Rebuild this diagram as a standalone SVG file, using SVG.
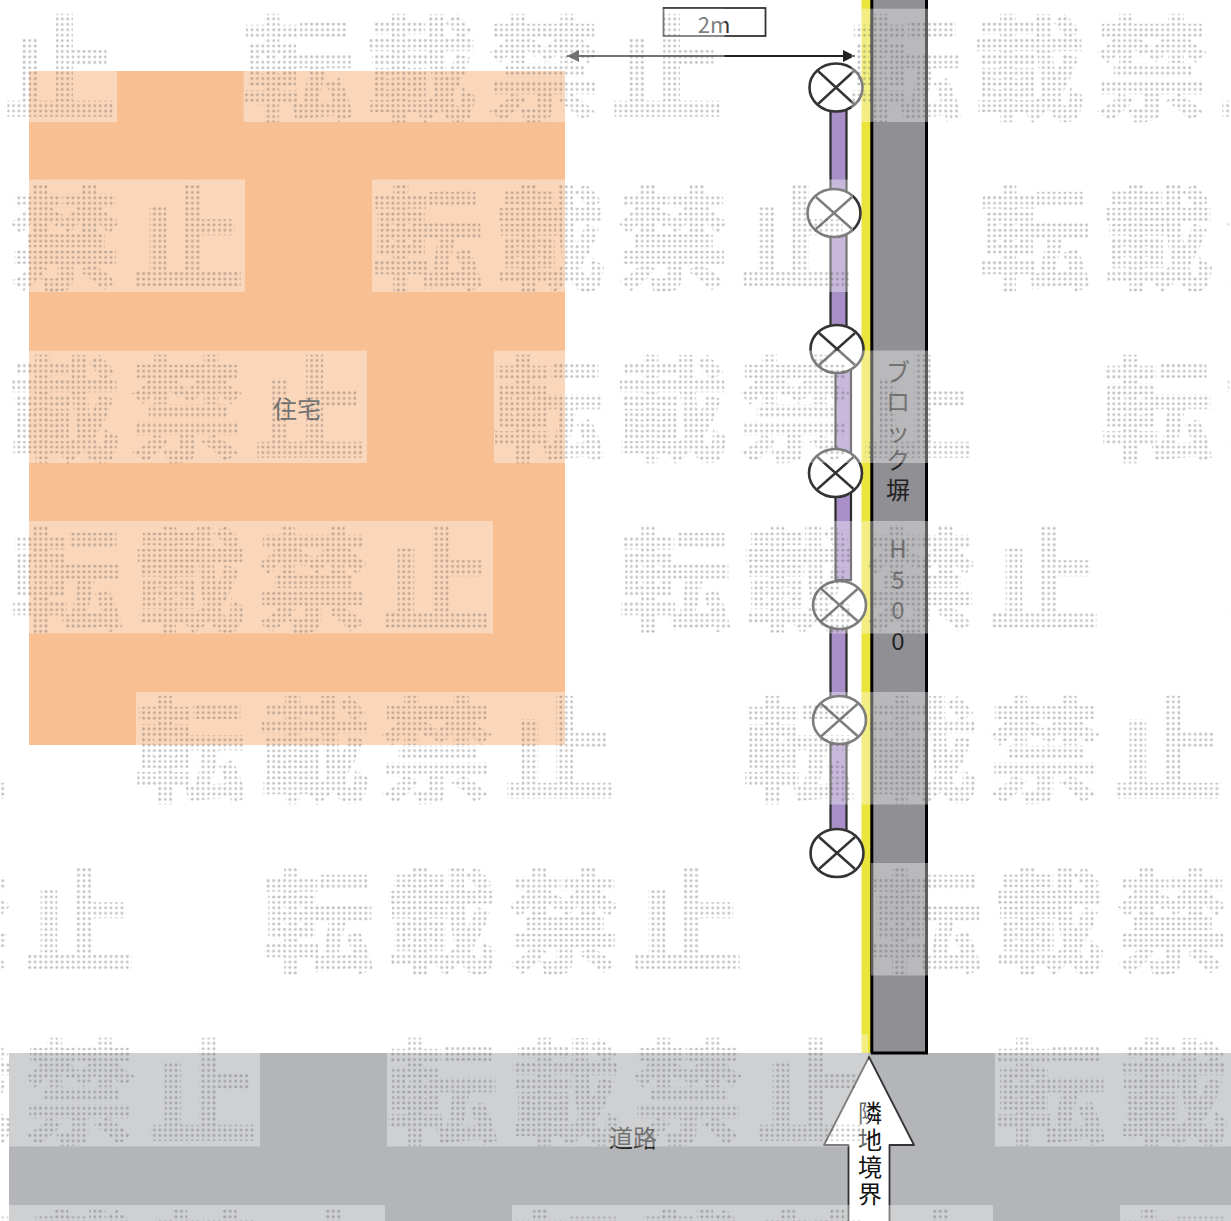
<svg xmlns="http://www.w3.org/2000/svg" width="1231" height="1221" viewBox="0 0 1231 1221">
<style>
.lbl{font-family:"Noto Sans CJK JP","Liberation Sans",sans-serif;fill:#222;font-size:24px;text-anchor:middle}
.lamp{fill:#fff;stroke:#333;stroke-width:2.6}
.cross{stroke:#333;stroke-width:2.4;fill:none}
.bar{fill:#a98fc8;stroke:#2a2a2a;stroke-width:2.2}
.wb{fill:#fff;fill-opacity:.37}
.wt{font-family:"Noto Sans CJK JP",sans-serif;font-weight:700;font-size:112px;letter-spacing:11px;fill:url(#dots);stroke:url(#dots);stroke-width:2.5px;opacity:.33}
</style>
<defs>
<pattern id="dots" width="5.42" height="5.42" patternUnits="userSpaceOnUse"><rect x="1.3" y="1.3" width="2.7" height="2.7" rx="1" fill="#4a4a4a"/></pattern>
<marker id="ah" viewBox="0 0 12 12" refX="12" refY="6" markerWidth="12" markerHeight="12" markerUnits="userSpaceOnUse" orient="auto-start-reverse"><path d="M0 0L12 6L0 12z" fill="#222"/></marker>
</defs>
<rect width="1231" height="1221" fill="#fff"/>
<g id="road"><rect x="9" y="1053" width="1222" height="168" fill="#b4b5b8"/></g>
<g id="house"><rect x="29" y="71" width="536" height="674" fill="#f8bf92"/><text class="lbl" x="297" y="418">住宅</text></g>
<g id="road-label"><text class="lbl" x="633" y="1147">道路</text></g>
<g id="boundary-strip"><rect x="861.5" y="0" width="10" height="1053" fill="#eae43b"/></g>
<g id="block-wall">
<rect x="871" y="-4" width="57" height="1058" fill="#908f94"/>
<path d="M871.8 0V1053M926.5 0V1053M871 1053H928" fill="none" stroke="#000" stroke-width="3"/>
<text class="lbl" x="898 898 898 898 898 898 898 898 898" y="381 411 441 469 499 558 589 619 650">ブロック塀H500</text>
</g>
<g id="fence">
<rect class="bar" x="830.5" y="105" width="16" height="245"/>
<rect class="bar" x="835.5" y="365" width="15.5" height="215"/>
<rect class="bar" x="830.5" y="625" width="16" height="215"/>
</g>
<g id="lamp-1"><ellipse class="lamp" cx="836" cy="87.5" rx="26.5" ry="24"/><path class="cross" d="M818 71L854 104M854 71L818 104"/></g>
<g id="lamp-2"><ellipse class="lamp" cx="834" cy="213" rx="26.5" ry="24"/><path class="cross" d="M816 197L852 229M852 197L816 229"/></g>
<g id="lamp-3"><ellipse class="lamp" cx="837" cy="349" rx="26.5" ry="24"/><path class="cross" d="M819 333L855 365M855 333L819 365"/></g>
<g id="lamp-4"><ellipse class="lamp" cx="835.500" cy="473" rx="26.500" ry="24"/><path class="cross" d="M817.500 457L853.500 489M853.500 457L817.500 489"/></g>
<g id="lamp-5"><ellipse class="lamp" cx="839.500" cy="605" rx="26.500" ry="24"/><path class="cross" d="M821.500 589L857.500 621M857.500 589L821.500 621"/></g>
<g id="lamp-6"><ellipse class="lamp" cx="839.500" cy="720" rx="26.500" ry="24"/><path class="cross" d="M821.500 704L857.500 736M857.500 704L821.500 736"/></g>
<g id="lamp-7"><ellipse class="lamp" cx="837" cy="853" rx="26.500" ry="24"/><path class="cross" d="M819 837L855 869M855 837L819 869"/></g>
<g id="connectors"><line x1="567" y1="56" x2="855" y2="56" stroke="#222" stroke-width="1.8" marker-start="url(#ah)" marker-end="url(#ah)"/></g>
<g id="dim-label"><rect x="663.500" y="8" width="102" height="28" fill="#fff" fill-opacity="0" stroke="#333" stroke-width="1.8"/><text x="714" y="33" font-family="Noto Sans CJK JP,Liberation Sans,sans-serif" font-size="22" fill="#333" text-anchor="middle">2m</text></g>
<g id="boundary-arrow">
<path d="M869 1057L914 1145H889.500V1225H848.500V1145H824z" fill="#fff" stroke="#333" stroke-width="1.8" stroke-linejoin="round"/>
<text class="lbl" style="fill:#111" x="870 870 870 870" y="1122 1149 1176 1203">隣地境界</text>
</g>
<g id="watermark">
<rect class="wb" x="-364" y="8.700" width="481" height="113.300"/><rect class="wb" x="243.500" y="8.700" width="481" height="113.300"/><rect class="wb" x="851.500" y="8.700" width="481" height="113.300"/>
<rect class="wb" x="-236" y="179.500" width="481" height="112.500"/><rect class="wb" x="372" y="179.500" width="481" height="112.500"/><rect class="wb" x="980" y="179.500" width="481" height="112.500"/>
<rect class="wb" x="-114" y="350.500" width="481" height="112.500"/><rect class="wb" x="494" y="350.500" width="481" height="112.500"/><rect class="wb" x="1102" y="350.500" width="481" height="112.500"/>
<rect class="wb" x="12" y="521" width="481" height="112.500"/><rect class="wb" x="620" y="521" width="481" height="112.500"/><rect class="wb" x="1228" y="521" width="481" height="112.500"/>
<rect class="wb" x="-472" y="692" width="481" height="112.500"/><rect class="wb" x="136" y="692" width="481" height="112.500"/><rect class="wb" x="744" y="692" width="481" height="112.500"/>
<rect class="wb" x="-345" y="863" width="481" height="112.500"/><rect class="wb" x="263" y="863" width="481" height="112.500"/><rect class="wb" x="871" y="863" width="481" height="112.500"/>
<rect class="wb" x="-221" y="1034" width="481" height="112.500"/><rect class="wb" x="387" y="1034" width="481" height="112.500"/><rect class="wb" x="995" y="1034" width="481" height="112.500"/>
<rect class="wb" x="-96" y="1205" width="481" height="112.500"/><rect class="wb" x="512" y="1205" width="481" height="112.500"/><rect class="wb" x="1120" y="1205" width="481" height="112.500"/>
<text class="wt" x="-365" y="111">転載禁止</text><text class="wt" x="242" y="111">転載禁止</text><text class="wt" x="850" y="111">転載禁止</text>
<text class="wt" x="-237" y="281">転載禁止</text><text class="wt" x="371" y="281">転載禁止</text><text class="wt" x="979" y="281">転載禁止</text>
<text class="wt" x="-115" y="452">転載禁止</text><text class="wt" x="493" y="452">転載禁止</text><text class="wt" x="1101" y="452">転載禁止</text>
<text class="wt" x="11" y="622">転載禁止</text><text class="wt" x="619" y="622">転載禁止</text><text class="wt" x="1227" y="622">転載禁止</text>
<text class="wt" x="-473" y="793">転載禁止</text><text class="wt" x="135" y="793">転載禁止</text><text class="wt" x="743" y="793">転載禁止</text>
<text class="wt" x="-346" y="964">転載禁止</text><text class="wt" x="262" y="964">転載禁止</text><text class="wt" x="870" y="964">転載禁止</text>
<text class="wt" x="-222" y="1135">転載禁止</text><text class="wt" x="386" y="1135">転載禁止</text><text class="wt" x="994" y="1135">転載禁止</text>
<text class="wt" x="-97" y="1306">転載禁止</text><text class="wt" x="511" y="1306">転載禁止</text><text class="wt" x="1119" y="1306">転載禁止</text>
</g>
</svg>
